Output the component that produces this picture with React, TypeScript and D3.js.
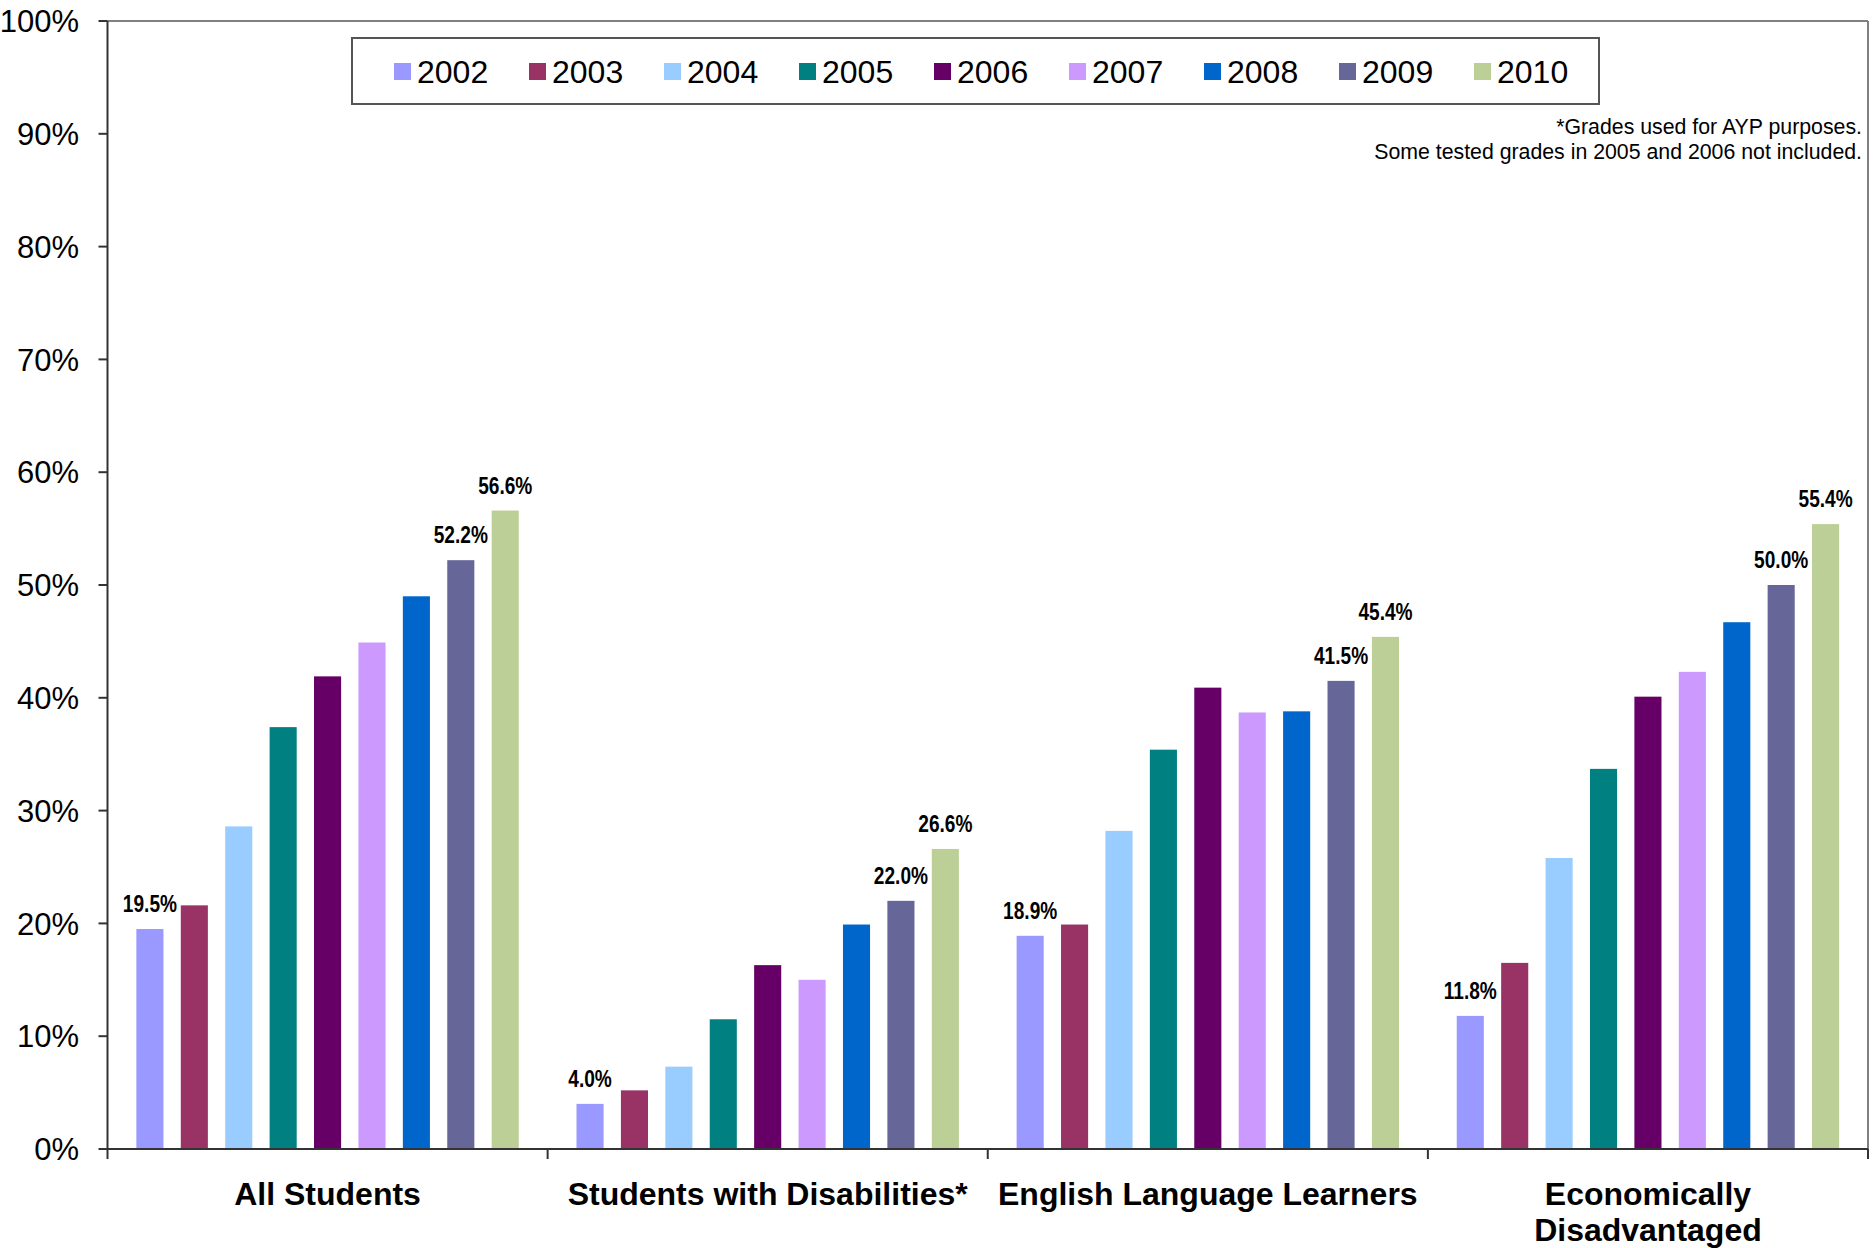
import * as d3 from 'd3';

const years = ['2002', '2003', '2004', '2005', '2006', '2007', '2008', '2009', '2010'];
const categories = ['All Students', 'Students with Disabilities*', 'English Language Learners', 'Economically Disadvantaged'];
const categoryLines = [['All Students'], ['Students with Disabilities*'], ['English Language Learners'], ['Economically', 'Disadvantaged']];

// percent proficient, one value per year
const allStudents = [19.5, 21.6, 28.6, 37.4, 41.9, 44.9, 49.0, 52.2, 56.6];
const studentsWithDisabilities = [4.0, 5.2, 7.3, 11.5, 16.3, 15.0, 19.9, 22.0, 26.6];
const englishLearners = [18.9, 19.9, 28.2, 35.4, 40.9, 38.7, 38.8, 41.5, 45.4];
const econDisadvantaged = [11.8, 16.5, 25.8, 33.7, 40.1, 42.3, 46.7, 50.0, 55.4];
const seriesByCategory = [allStudents, studentsWithDisabilities, englishLearners, econDisadvantaged];

const labeledYears = ['2002', '2009', '2010'];
const yTicks = [0, 10, 20, 30, 40, 50, 60, 70, 80, 90, 100];
const notes = ['*Grades used for AYP purposes.', 'Some tested grades in 2005 and 2006 not included.'];

const colors = ['#9999FF', '#993366', '#99CCFF', '#008080', '#660066', '#CC99FF', '#0066CC', '#666699', '#BBCF97'];

const W = 1875;
const H = 1248;
const plot = { left: 107.5, right: 1868, top: 21, bottom: 1149 };
const sans = '"Liberation Sans", Arial, sans-serif';

export default function App() {
  const x0 = d3.scaleBand<string>().domain(categories).range([plot.left, plot.right]).padding(0);
  const x1 = d3.scaleBand<string>().domain(years).range([0, x0.bandwidth()]).paddingInner(0.39).paddingOuter(0.65);
  const y = d3.scaleLinear().domain([0, 100]).range([plot.bottom, plot.top]);
  const color = d3.scaleOrdinal<string, string>().domain(years).range(colors);
  const fmt = (v: number) => `${v.toFixed(1)}%`;

  const legendX = 394;
  const legendStep = 135;

  return (
    <svg width={W} height={H} style={{ position: 'absolute', left: 0, top: 0, display: 'block', background: '#fff' }}>
      {/* plot frame */}
      <line x1={plot.left} x2={plot.right} y1={plot.top} y2={plot.top} stroke="#808080" strokeWidth={2} />
      <line x1={plot.right} x2={plot.right} y1={plot.top} y2={plot.bottom} stroke="#808080" strokeWidth={2} />

      {/* bars */}
      {categories.map((cat, ci) => (
        <g key={cat} transform={`translate(${x0(cat)},0)`}>
          {years.map((yr, i) => {
            const v = seriesByCategory[ci][i];
            const bx = x1(yr) as number;
            return (
              <g key={yr}>
                <rect x={bx} y={y(v)} width={x1.bandwidth()} height={y(0) - y(v)} fill={color(yr)} />
                {labeledYears.includes(yr) && (
                  // narrow bold label: squeeze horizontally
                  <text
                    transform={`translate(${bx + x1.bandwidth() / 2},${y(v) - 17}) scale(0.83,1)`}
                    textAnchor="middle"
                    fontFamily={sans}
                    fontWeight="bold"
                    fontSize={23}
                    fill="#000"
                  >
                    {fmt(v)}
                  </text>
                )}
              </g>
            );
          })}
        </g>
      ))}

      {/* y axis */}
      <line x1={plot.left} x2={plot.left} y1={plot.top} y2={plot.bottom} stroke="#333" strokeWidth={2} />
      {yTicks.map(t => (
        <g key={t}>
          <line x1={plot.left - 9} x2={plot.left} y1={y(t)} y2={y(t)} stroke="#333" strokeWidth={2} />
          <text x={79} y={y(t)} dy="0.36em" textAnchor="end" fontFamily={sans} fontSize={31} fill="#000">
            {t}%
          </text>
        </g>
      ))}

      {/* x axis */}
      <line x1={plot.left} x2={plot.right} y1={plot.bottom} y2={plot.bottom} stroke="#333" strokeWidth={2} />
      {[...categories.map(c => x0(c) as number), plot.right].map((tx, i) => (
        <line key={i} x1={tx} x2={tx} y1={plot.bottom} y2={plot.bottom + 10} stroke="#333" strokeWidth={2} />
      ))}
      {categories.map((cat, ci) => (
        <text
          key={cat}
          x={(x0(cat) as number) + x0.bandwidth() / 2}
          y={1205}
          textAnchor="middle"
          fontFamily={sans}
          fontWeight="bold"
          fontSize={32}
          fill="#000"
        >
          {categoryLines[ci].map((ln, li) => (
            <tspan key={li} x={(x0(cat) as number) + x0.bandwidth() / 2} dy={li === 0 ? 0 : 36}>
              {ln}
            </tspan>
          ))}
        </text>
      ))}

      {/* legend */}
      <rect x={352} y={38} width={1247} height={66} fill="#fff" stroke="#555" strokeWidth={2} />
      {years.map((yr, i) => (
        <g key={yr} transform={`translate(${legendX + i * legendStep},0)`}>
          <rect x={0} y={63} width={17} height={17} fill={color(yr)} />
          <text x={23} y={83} fontFamily={sans} fontSize={32} fill="#000">
            {yr}
          </text>
        </g>
      ))}

      {/* note */}
      {notes.map((n, i) => (
        <text key={i} x={1862} y={134 + i * 25} textAnchor="end" fontFamily={sans} fontSize={21.3} fill="#000">
          {n}
        </text>
      ))}
    </svg>
  );
}
